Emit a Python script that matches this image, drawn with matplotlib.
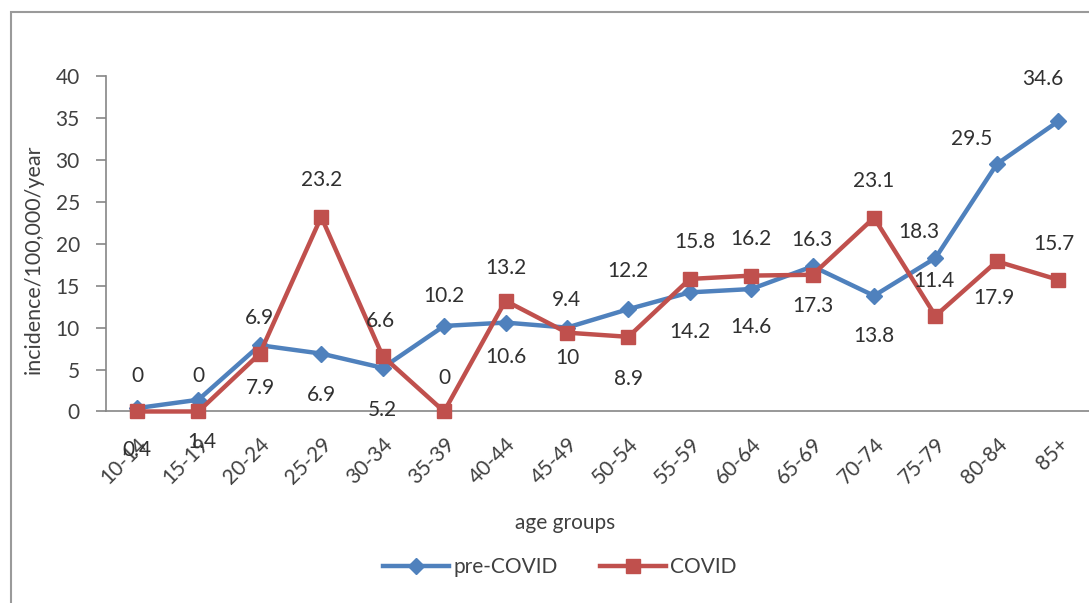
import matplotlib.pyplot as plt
from matplotlib.patches import Rectangle

# data
age_groups = ['10-14', '15-19', '20-24', '25-29', '30-34', '35-39', '40-44', '45-49',
              '50-54', '55-59', '60-64', '65-69', '70-74', '75-79', '80-84', '85+']
pre_covid = [0.4, 1.4, 7.9, 6.9, 5.2, 10.2, 10.6, 10, 12.2, 14.2, 14.6, 17.3, 13.8, 18.3, 29.5, 34.6]
covid = [0, 0, 6.9, 23.2, 6.6, 0, 13.2, 9.4, 8.9, 15.8, 16.2, 16.3, 23.1, 11.4, 17.9, 15.7]

# data label offsets (pixels, + is up), as placed in the original
pre_dx = [0, 3, 1, 0, 0, 0, 0, 0, 0, 0, 0, 0, 0, -17, -25, -16]
pre_dy = [-42, -42, -43, -41, -42, 30, -34, -30, 38, -40, -38, -40, -40, 26, 25, 42]
cov_dx = [0, 0, 0, 0, -2, 0, 0, 0, 0, 5, 0, -1, 0, -2, -3, -4]
cov_dy = [35, 35, 36, 37, 35, 33, 33, 33, -42, 37, 37, 35, 37, 35, -37, 36]

BLUE = '#4F81BD'
RED = '#C0504D'
TXT = '#404040'
FONT = 'Lato'

plt.rcParams['font.family'] = [FONT, 'DejaVu Sans']

fig = plt.figure(figsize=(10.89, 6.03), dpi=100)
ax = fig.add_axes([0.0976, 0.3176, 0.9024, 0.5564])

x = list(range(len(age_groups)))
ax.plot(x, pre_covid, color=BLUE, lw=3.2, marker='D', ms=8.5, label='pre-COVID', clip_on=False, zorder=3)
ax.plot(x, covid, color=RED, lw=3.2, marker='s', ms=10, label='COVID', clip_on=False, zorder=4)

px = 0.72  # pixels -> points at dpi 100
for i in x:
    ax.annotate(f'{pre_covid[i]:g}', (i, pre_covid[i]), xytext=(pre_dx[i] * px, pre_dy[i] * px),
                textcoords='offset points', ha='center', va='center', fontsize=15, color='#303030',
                annotation_clip=False, zorder=5)
    ax.annotate(f'{covid[i]:g}', (i, covid[i]), xytext=(cov_dx[i] * px, cov_dy[i] * px),
                textcoords='offset points', ha='center', va='center', fontsize=15, color='#303030',
                annotation_clip=False, zorder=5)

ax.set_xlim(-0.5, len(age_groups) - 0.5)
ax.set_ylim(0, 40)
ax.set_yticks(range(0, 41, 5))
ax.set_xticks(x)
ax.set_xticklabels(age_groups, rotation=45, ha='right', va='top', rotation_mode='anchor')

for s in ['top', 'right']:
    ax.spines[s].set_visible(False)
for s in ['left', 'bottom']:
    ax.spines[s].set_color('#868686')
    ax.spines[s].set_linewidth(1.2)

ax.tick_params(axis='y', length=7, width=1.2, color='#868686', pad=12, labelsize=15, labelcolor=TXT)
ax.tick_params(axis='x', length=0, pad=16, labelsize=15, labelcolor=TXT)

ax.set_ylabel('incidence/100,000/year', fontsize=15.5, color=TXT)
ax.yaxis.set_label_coords(-0.064, 0.455)
fig.text(0.519, 0.133, 'age groups', ha='center', va='center', fontsize=15, color=TXT)

fig.legend(loc='center', bbox_to_anchor=(0.514, 0.06), ncol=2, frameon=False, fontsize=15,
           handlelength=3.2, columnspacing=2.0, handletextpad=0.2, labelcolor=TXT)

# outer chart border (cut off at right and bottom)
fig.patches.append(Rectangle((11 / 1089, -0.05), 1.1, 1 - 12 / 603 + 0.05, transform=fig.transFigure,
                             fill=False, edgecolor='#9a9a9a', lw=1.5))

fig.savefig('out.png', dpi=100)
